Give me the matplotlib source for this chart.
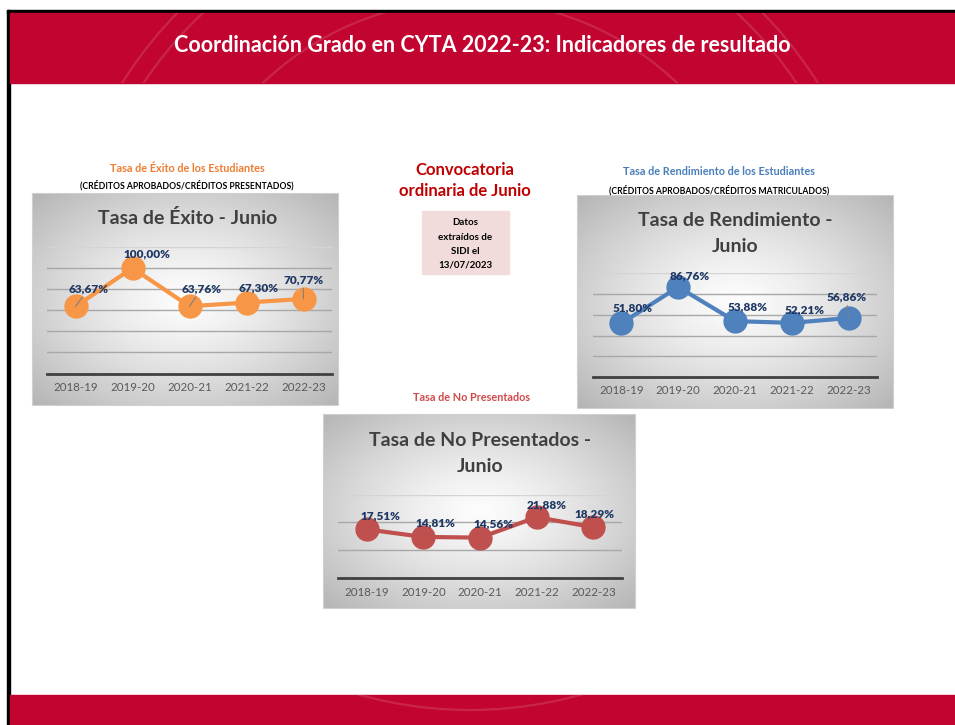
import numpy as np
import matplotlib
matplotlib.use('Agg')
import matplotlib.pyplot as plt
from matplotlib.patches import Rectangle, Circle

plt.rcParams['font.family'] = ['Lato', 'DejaVu Sans']

W, H = 955, 725

# data (percentages per academic year)
years = ['2018-19', '2019-20', '2020-21', '2021-22', '2022-23']
exito = [63.67, 100.00, 63.76, 67.30, 70.77]
rendimiento = [51.80, 86.76, 53.88, 52.21, 56.86]
no_presentados = [17.51, 14.81, 14.56, 21.88, 18.29]

RED = '#c10530'
NAVY = '#1f3864'


def fmt_pct(v):
    return '{:.2f}%'.format(v).replace('.', ',')


def px_rect(x0, y0, x1, y1):
    # pixel box (top-left origin) -> figure fraction rect
    return [x0 / W, 1 - y1 / H, (x1 - x0) / W, (y1 - y0) / H]


fig = plt.figure(figsize=(W / 100, H / 100), dpi=100)
bg = fig.add_axes([0, 0, 1, 1])
bg.axis('off')

# slide frame, header and footer bands
bg.add_patch(Rectangle((7, 10), 948, 3, color='black', zorder=1))
bg.add_patch(Rectangle((7, 10), 3, 715, color='black', zorder=1))
header = Rectangle((10, 13), 945, 70, color=RED, zorder=1)
footer = Rectangle((10, 695), 945, 30, color=RED, zorder=1)
bg.add_patch(header)
bg.add_patch(footer)
# faint seal outline behind the bands
for band in (header, footer):
    for r in (410, 392, 300):
        c = Circle((470, 300), r, fill=False, ec='#d03a5e', lw=1.6, alpha=0.6, zorder=1.5)
        bg.add_patch(c)
        c.set_clip_path(band)
bg.text(482, 45, 'Coordinación Grado en CYTA 2022-23: Indicadores de resultado',
        color='white', fontsize=15.5, fontweight='bold', ha='center', va='center', zorder=3)

# radial grey fill used for every chart area
gx, gy = np.meshgrid(np.linspace(-1, 1, 200), np.linspace(-1, 1, 200))
rr = np.sqrt(gx ** 2 + gy ** 2) / np.sqrt(2)
grad = (252 - 72 * rr ** 1.3) / 255.0


def draw_chart(box, plot, values, ymax, step, color, title_lines, title_y, title_x,
               offsets, leaders):
    x0, y0, x1, y1 = box
    bg.imshow(grad, cmap='gray', vmin=0, vmax=1, extent=(x0, x1, y1, y0),
              aspect='auto', interpolation='bilinear', zorder=1)
    bg.add_patch(Rectangle((x0, y0), x1 - x0, y1 - y0, fill=False, ec='#d0d0d0',
                           lw=0.8, zorder=2))
    for line, ty in zip(title_lines, title_y):
        bg.text(title_x, ty, line, color='#404040', fontsize=14, fontweight='bold',
                ha='center', va='center', zorder=3)

    ax = fig.add_axes(px_rect(*plot))
    ax.set_facecolor('none')
    xs = np.arange(len(values))
    levels = np.arange(step, ymax + step / 2, step)
    for lv in levels:
        ax.axhline(lv, color='#d4d4d4' if lv == levels[-1] else '#a8a8a8', lw=1, zorder=1)
    ax.plot(xs, values, color=color, lw=3, marker='o', ms=16.5, zorder=3)
    for i, v in enumerate(values):
        dx, dy = offsets[i]
        arrow = None
        if leaders[i]:
            arrow = dict(arrowstyle='-', color='#7f7f7f', lw=0.8, shrinkA=0, shrinkB=0)
        ax.annotate(fmt_pct(v), xy=(i, v), xytext=(dx / 1.389, -dy / 1.389),
                    textcoords='offset points', ha='center', va='center',
                    color=NAVY, fontsize=8.5, fontweight='heavy', arrowprops=arrow, zorder=4)
    ax.set_xlim(-0.5, len(values) - 0.5)
    ax.set_ylim(0, ymax)
    ax.set_xticks(xs)
    ax.set_xticklabels(years)
    ax.set_yticks([])
    ax.tick_params(axis='x', length=0, pad=6, labelsize=8.3, labelcolor='#595959')
    for s in ('top', 'left', 'right'):
        ax.spines[s].set_visible(False)
    ax.spines['bottom'].set_color('#404040')
    ax.spines['bottom'].set_linewidth(2)
    ax.spines['bottom'].set_zorder(2)
    return ax


# Tasa de Éxito
bg.text(187, 168, 'Tasa de Éxito de los Estudiantes', color='#ed7d31', fontsize=7.8,
        fontweight='bold', ha='center', va='center')
bg.text(187, 185, '(CRÉDITOS APROBADOS/CRÉDITOS PRESENTADOS)', color='black', fontsize=6.2,
        fontweight='bold', ha='center', va='center')
draw_chart((32, 193, 338, 405), (47, 247, 332, 373.5), exito, 120, 20, '#f79646',
           ['Tasa de Éxito - Junio'], [218], 188,
           [(13, -17.4), (14.3, -13.7), (11.7, -17.4), (12.3, -14.7), (-0.4, -18.7)],
           [True, False, True, False, True])

# Tasa de Rendimiento
bg.text(719, 171, 'Tasa de Rendimiento de los Estudiantes', color='#4a7ebb', fontsize=7.8,
        fontweight='bold', ha='center', va='center')
bg.text(719, 190.5, '(CRÉDITOS APROBADOS/CRÉDITOS MATRICULADOS)', color='black', fontsize=6.2,
        fontweight='bold', ha='center', va='center')
draw_chart((577, 195, 893, 408), (593, 273.3, 877, 377), rendimiento, 100, 20, '#4f81bd',
           ['Tasa de Rendimiento -', 'Junio'], [220, 246], 735,
           [(11.6, -15), (11.6, -11), (12.7, -14.6), (12.6, -12.7), (-2.3, -20.7)],
           [False, False, False, False, True])

# Tasa de No Presentados
bg.text(472, 397, 'Tasa de No Presentados', color='#d04a4a', fontsize=7.8,
        fontweight='bold', ha='center', va='center')
draw_chart((323, 414, 635, 608), (338.3, 494.5, 621.7, 578.3), no_presentados, 30, 10, '#c0504d',
           ['Tasa de No Presentados -', 'Junio'], [440, 466], 480,
           [(13.6, -13.3), (11.6, -14.4), (13.4, -13.5), (10, -12.3), (0.7, -13.5)],
           [False, False, False, False, False])

# convocatoria note
bg.text(465, 170, 'Convocatoria', color='#c00000', fontsize=12, fontweight='bold',
        ha='center', va='center')
bg.text(465, 190.5, 'ordinaria de Junio', color='#c00000', fontsize=12, fontweight='bold',
        ha='center', va='center')
bg.add_patch(Rectangle((421.7, 211), 87.3, 63.3, color='#f2dcdb', zorder=1))
for line, ty in zip(['Datos', 'extraídos de', 'SIDI el', '13/07/2023'], [222.7, 237, 251, 265.3]):
    bg.text(465, ty, line, color='black', fontsize=7, fontweight='bold',
            ha='center', va='center', zorder=3)

bg.set_xlim(0, W)
bg.set_ylim(H, 0)

fig.savefig('out.png', dpi=100)
